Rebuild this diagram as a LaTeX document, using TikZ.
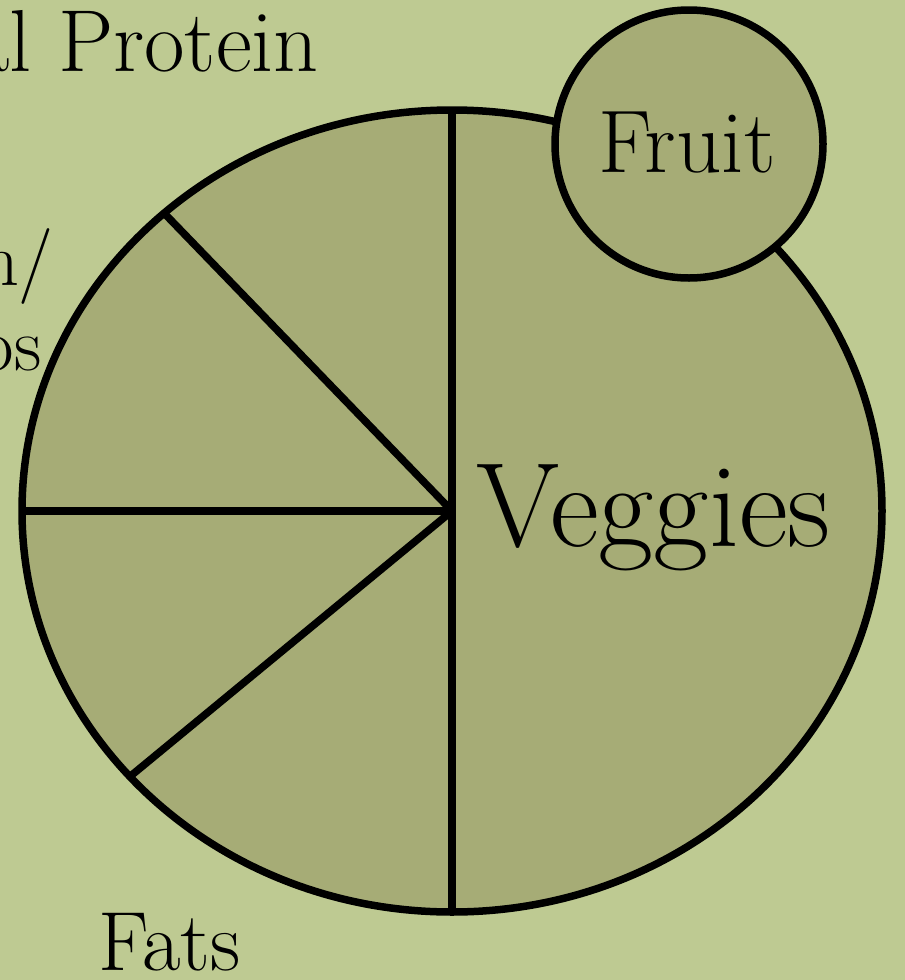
\documentclass[tikz,border=0pt]{standalone}
\usepackage{fontspec}
\usetikzlibrary{calc}
\definecolor{bgcol}{RGB}{190,202,146}
\definecolor{piecol}{RGB}{166,172,118}
\tikzset{
  outline/.style={line width=7.5pt, draw=black},
  label/.style={inner sep=0pt, text=black},
}
\begin{document}
\begin{tikzpicture}[x=1pt,y=-1pt]
\useasboundingbox (0,0) rectangle (905,980);
\clip (0,0) rectangle (905,980);
\fill[bgcol] (0,0) rectangle (905,980);
% main pie
\coordinate (C) at (452,511);
\fill[piecol] (C) ellipse [x radius=430, y radius=401];
\begin{scope}
  \clip (C) ellipse [x radius=430, y radius=401];
  \coordinate (top) at (452,100);
  \coordinate (bot) at (452,925);
  \coordinate (left) at (10,511);
  \coordinate (ul) at ($(C)!1.1!(164,213)$);
  \coordinate (ll) at ($(C)!1.1!(133,774)$);
  \draw[outline] (top) -- (bot);
  \draw[outline] (C) -- (left);
  \draw[outline] (C) -- (ul);
  \draw[outline] (C) -- (ll);
\end{scope}
\draw[outline] (C) ellipse [x radius=430, y radius=401];
% fruit
\node[circle, fill=piecol, outline, minimum size=268pt, inner sep=0pt] (fruit) at (689,144) {};
\node[label, anchor=base west, font=\fontsize{89}{92}\selectfont] (fruittxt) at (598,172) {Fruit};
\node[label, anchor=base west, font=\fontsize{120}{124}\selectfont] (veg) at (476,546) {Veggies};
\node[label, anchor=base east, font=\fontsize{88}{92}\selectfont] (prot) at (319,71) {Animal Protein};
\node[label, anchor=base east, font=\fontsize{76}{80}\selectfont] (grain) at (54,285) {Grain/};
\node[label, anchor=base east, font=\fontsize{76}{80}\selectfont] (carbs) at (42,370) {Carbs};
\node[label, anchor=base west, font=\fontsize{84}{88}\selectfont] (fats) at (98,970) {Fats};
\end{tikzpicture}
\end{document}
